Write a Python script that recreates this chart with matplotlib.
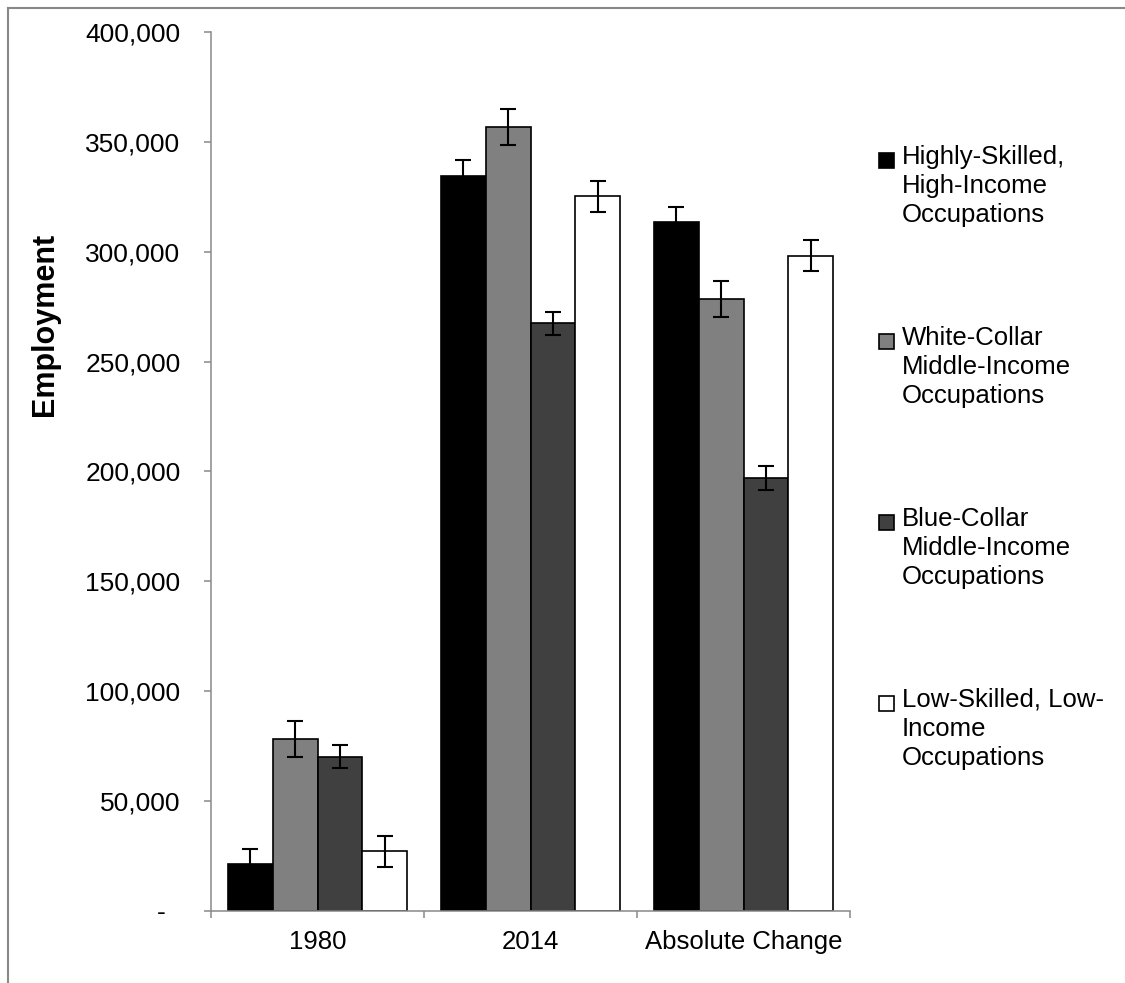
import numpy as np
import matplotlib.pyplot as plt
from matplotlib.patches import Rectangle
from matplotlib.lines import Line2D
from matplotlib.ticker import MultipleLocator, FuncFormatter

plt.rcParams['font.family'] = ['Liberation Sans', 'DejaVu Sans']

# Categories and series
categories = ['1980', '2014', 'Absolute Change']
seriesLabels = ['Highly-Skilled,\nHigh-Income\nOccupations',
                'White-Collar\nMiddle-Income\nOccupations',
                'Blue-Collar\nMiddle-Income\nOccupations',
                'Low-Skilled, Low-\nIncome\nOccupations']
highSkill = [21500, 334500, 313500]
whiteCollar = [78300, 356800, 278500]
blueCollar = [70300, 267500, 197000]
lowSkill = [27200, 325300, 298200]
highSkillErr = [6800, 7200, 7000]
whiteCollarErr = [8000, 8000, 8200]
blueCollarErr = [5400, 5200, 5500]
lowSkillErr = [7000, 7000, 7000]

allValues = [highSkill, whiteCollar, blueCollar, lowSkill]
allErrs = [highSkillErr, whiteCollarErr, blueCollarErr, lowSkillErr]
barColors = ['#000000', '#808080', '#404040', '#ffffff']

W, H = 1125, 983
fig = plt.figure(figsize=(W / 100, H / 100), dpi=100)
fig.patch.set_facecolor('white')
ax = fig.add_axes([211 / W, 1 - 911 / H, 639 / W, 879 / H])

# Bars with error bars
x = np.arange(len(categories))
barW = 0.21
for num, vals in enumerate(allValues):
    pos = x + (num - 1.5) * barW
    ax.bar(pos, vals, barW, color=barColors[num], edgecolor='black', linewidth=1.2, zorder=2)
    ax.errorbar(pos, vals, yerr=allErrs[num], fmt='none', ecolor='black',
                elinewidth=1.5, capsize=6, capthick=1.5, zorder=3)

# Axis limits and ticks
ax.set_xlim(-0.5, 2.5)
ax.set_ylim(0, 400000)
ax.yaxis.set_major_locator(MultipleLocator(50000))


def yFmt(v, pos):
    if v == 0:
        return '-  '
    return '{:,.0f}'.format(v)


ax.yaxis.set_major_formatter(FuncFormatter(yFmt))
ax.set_xticks(np.arange(-0.5, 2.6, 1.0))
ax.set_xticklabels([])
ax.set_xticks(x, minor=True)
ax.set_xticklabels(categories, minor=True)
ax.tick_params(axis='x', which='minor', length=0, pad=14, labelsize=18.5)
ax.tick_params(axis='x', which='major', length=5, width=1.1, color='#898989', direction='out')
ax.tick_params(axis='y', length=5, width=1.1, color='#898989', direction='out', pad=17, labelsize=19)

for s in ['top', 'right']:
    ax.spines[s].set_visible(False)
for s in ['left', 'bottom']:
    ax.spines[s].set_color('#898989')
    ax.spines[s].set_linewidth(1.1)

ax.set_ylabel('Employment', fontsize=22, fontweight='bold')
ax.yaxis.set_label_coords(-0.236, 0.667)

# Legend drawn by hand so the square sits on the first text line
legTop = 160
legStep = 181
for num, lab in enumerate(seriesLabels):
    yc = legTop + num * legStep
    fig.add_artist(Rectangle((879 / W, 1 - (yc + 7.5) / H), 15 / W, 15 / H,
                             transform=fig.transFigure, facecolor=barColors[num],
                             edgecolor='black', linewidth=1.2))
    fig.text(902 / W, 1 - (yc - 15) / H, lab, fontsize=18.5, va='top', ha='left',
             linespacing=1.27)

# Chart area border (cropped on right and bottom)
fig.add_artist(Line2D([8 / W, 8 / W], [0, 1 - 8 / H], transform=fig.transFigure,
                      color='#888888', linewidth=1.5))
fig.add_artist(Line2D([8 / W, 1], [1 - 8 / H, 1 - 8 / H], transform=fig.transFigure,
                      color='#888888', linewidth=1.5))

fig.savefig('out.png', dpi=100)
